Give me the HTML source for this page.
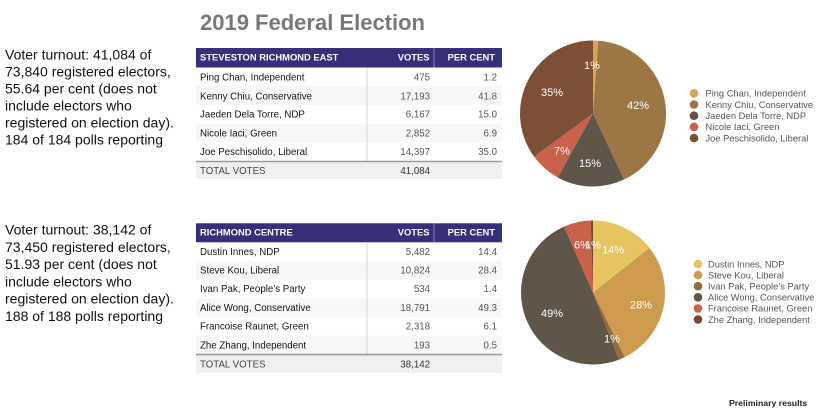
<!DOCTYPE html>
<html><head><meta charset="utf-8"><style>
html,body{margin:0;padding:0;background:#fff;}
svg{display:block;font-family:"Liberation Sans",Arial,sans-serif;}
</style></head><body>
<svg width="825" height="413" viewBox="0 0 825 413" xmlns="http://www.w3.org/2000/svg">
<rect width="825" height="413" fill="#fff"/>
<!-- Title -->
<text x="200" y="30" font-size="22" font-weight="bold" fill="#787878">2019 Federal Election</text>

<!-- Left texts -->
<g font-size="14" fill="#111">
<text x="5" y="59.5">Voter turnout: 41,084 of</text>
<text x="5" y="76.5">73,840 registered electors,</text>
<text x="5" y="93.5">55.64 per cent (does not</text>
<text x="5" y="110.5">include electors who</text>
<text x="5" y="127.5">registered on election day).</text>
<text x="5" y="144.5">184 of 184 polls reporting</text>
<text x="5" y="234.5">Voter turnout: 38,142 of</text>
<text x="5" y="251.8">73,450 registered electors,</text>
<text x="5" y="269.1">51.93 per cent (does not</text>
<text x="5" y="286.4">include electors who</text>
<text x="5" y="303.7">registered on election day).</text>
<text x="5" y="321">188 of 188 polls reporting</text>
</g>

<!-- Table 1 -->
<rect x="196" y="48" width="306" height="19.5" fill="#352f7c"/>
<line x1="434" y1="48" x2="434" y2="67.5" stroke="#8a86b8" stroke-width="1"/>
<rect x="196" y="86.2" width="306" height="18.7" fill="#f7f7f7"/>
<rect x="196" y="123.6" width="306" height="18.7" fill="#f7f7f7"/>
<line x1="367" y1="67.5" x2="367" y2="161" stroke="#d4d4d4" stroke-width="1"/>
<rect x="196" y="162" width="306" height="17" fill="#efefef"/>
<line x1="196" y1="161.5" x2="502" y2="161.5" stroke="#9a9a9a" stroke-width="1.6"/>
<g font-size="9.4" font-weight="bold" fill="#fff">
<text x="200" y="60.4">STEVESTON RICHMOND EAST</text>
<text x="429.5" y="60.4" text-anchor="end">VOTES</text>
<text x="495" y="60.4" text-anchor="end">PER CENT</text>
</g>
<g font-size="9.7" fill="#151515">
<text x="200" y="80.3">Ping Chan, Independent</text>
<text x="200" y="99.3">Kenny Chiu, Conservative</text>
<text x="200" y="117.6">Jaeden Dela Torre, NDP</text>
<text x="200" y="136.3">Nicole Iaci, Green</text>
<text x="200" y="155">Joe Peschisolido, Liberal</text>
</g>
<g font-size="9.7" fill="#555" text-anchor="end">
<text x="430" y="80.3">475</text><text x="497" y="80.3">1.2</text>
<text x="430" y="99.3">17,193</text><text x="497" y="99.3">41.8</text>
<text x="430" y="117.6">6,167</text><text x="497" y="117.6">15.0</text>
<text x="430" y="136.3">2,852</text><text x="497" y="136.3">6.9</text>
<text x="430" y="155">14,397</text><text x="497" y="155">35.0</text>
</g>
<text x="200" y="174" font-size="9.7" fill="#444">TOTAL VOTES</text>
<text x="430" y="174" font-size="9.7" fill="#333" text-anchor="end">41,084</text>

<!-- Table 2 -->
<rect x="196" y="223.3" width="306" height="19" fill="#352f7c"/>
<line x1="434" y1="223.3" x2="434" y2="242.3" stroke="#8a86b8" stroke-width="1"/>
<rect x="196" y="261" width="306" height="18.65" fill="#f7f7f7"/>
<rect x="196" y="298.3" width="306" height="18.65" fill="#f7f7f7"/>
<rect x="196" y="335.6" width="306" height="18.65" fill="#f7f7f7"/>
<line x1="367" y1="242.3" x2="367" y2="354" stroke="#d4d4d4" stroke-width="1"/>
<rect x="196" y="355" width="306" height="18" fill="#efefef"/>
<line x1="196" y1="354.6" x2="502" y2="354.6" stroke="#9a9a9a" stroke-width="1.6"/>
<g font-size="9.4" font-weight="bold" fill="#fff">
<text x="200" y="235.6">RICHMOND CENTRE</text>
<text x="429.5" y="235.6" text-anchor="end">VOTES</text>
<text x="495" y="235.6" text-anchor="end">PER CENT</text>
</g>
<g font-size="9.7" fill="#151515">
<text x="200" y="255">Dustin Innes, NDP</text>
<text x="200" y="273.3">Steve Kou, Liberal</text>
<text x="200" y="292">Ivan Pak, People’s Party</text>
<text x="200" y="311">Alice Wong, Conservative</text>
<text x="200" y="329.3">Francoise Raunet, Green</text>
<text x="200" y="348.3">Zhe Zhang, Independent</text>
</g>
<g font-size="9.7" fill="#555" text-anchor="end">
<text x="430" y="255">5,482</text><text x="497" y="255">14.4</text>
<text x="430" y="273.3">10,824</text><text x="497" y="273.3">28.4</text>
<text x="430" y="292">534</text><text x="497" y="292">1.4</text>
<text x="430" y="311">18,791</text><text x="497" y="311">49.3</text>
<text x="430" y="329.3">2,318</text><text x="497" y="329.3">6.1</text>
<text x="430" y="348.3">193</text><text x="497" y="348.3">0.5</text>
</g>
<text x="200" y="367.4" font-size="9.7" fill="#444">TOTAL VOTES</text>
<text x="430" y="367.4" font-size="9.7" fill="#333" text-anchor="end">38,142</text>

<!-- Pie 1: center (593,113.5) r=73 -->
<g>
<path d="M593,113.5 L593,40.5 A73,73 0 0,1 598.30,40.69 Z" fill="#d9a254"/>
<path d="M593,113.5 L598.30,40.69 A73,73 0 0,1 624.06,179.56 Z" fill="#9c7644"/>
<path d="M593,113.5 L624.06,179.56 A73,73 0 0,1 557.77,177.44 Z" fill="#5f5548"/>
<path d="M593,113.5 L557.77,177.44 A73,73 0 0,1 534.08,156.59 Z" fill="#c9614b"/>
<path d="M593,113.5 L534.08,156.59 A73,73 0 0,1 593,40.5 Z" fill="#7e4f37"/>
</g>
<g font-size="11" fill="#fff" text-anchor="middle">
<text x="592" y="69">1%</text>
<text x="638" y="109">42%</text>
<text x="590" y="167">15%</text>
<text x="562" y="154.5">7%</text>
<text x="552" y="96">35%</text>
</g>

<!-- Pie 2: center (593,292.5) r=72 -->
<g>
<path d="M593,292.5 L593,220.5 A72,72 0 0,1 649.53,247.91 Z" fill="#e6c45f"/>
<path d="M593,292.5 L649.53,247.91 A72,72 0 0,1 624.67,357.16 Z" fill="#cd9b4e"/>
<path d="M593,292.5 L624.67,357.16 A72,72 0 0,1 618.87,359.69 Z" fill="#946c40"/>
<path d="M593,292.5 L618.87,359.69 A72,72 0 0,1 564.06,226.57 Z" fill="#5f5548"/>
<path d="M593,292.5 L564.06,226.57 A72,72 0 0,1 590.71,220.54 Z" fill="#c9614b"/>
<path d="M593,292.5 L590.71,220.54 A72,72 0 0,1 593,220.5 Z" fill="#774530"/>
</g>
<g font-size="11" fill="#fff" text-anchor="middle">
<text x="613" y="253.5">14%</text>
<text x="641" y="308.5">28%</text>
<text x="612" y="342.5">1%</text>
<text x="552" y="317">49%</text>
<text x="582" y="248.5">6%</text>
<text x="593" y="248.5">1%</text>
</g>

<!-- Legend 1 -->
<g>
<circle cx="694" cy="93.3" r="4.3" fill="#d9a254"/>
<circle cx="694" cy="104.5" r="4.3" fill="#9c7644"/>
<circle cx="694" cy="115.7" r="4.3" fill="#5f5548"/>
<circle cx="694" cy="126.9" r="4.3" fill="#c9614b"/>
<circle cx="694" cy="138.1" r="4.3" fill="#7e4f37"/>
</g>
<g font-size="9.3" fill="#555">
<text x="705.5" y="96.6">Ping Chan, Independent</text>
<text x="705.5" y="107.8">Kenny Chiu, Conservative</text>
<text x="705.5" y="119">Jaeden Dela Torre, NDP</text>
<text x="705.5" y="130.2">Nicole Iaci, Green</text>
<text x="705.5" y="141.4">Joe Peschisolido, Liberal</text>
</g>

<!-- Legend 2 -->
<g>
<circle cx="698" cy="264" r="4.3" fill="#e6c45f"/>
<circle cx="698" cy="275.1" r="4.3" fill="#cd9b4e"/>
<circle cx="698" cy="286.2" r="4.3" fill="#946c40"/>
<circle cx="698" cy="297.3" r="4.3" fill="#5f5548"/>
<circle cx="698" cy="308.4" r="4.3" fill="#c9614b"/>
<circle cx="698" cy="319.5" r="4.3" fill="#774530"/>
</g>
<g font-size="9.3" fill="#555">
<text x="708" y="267.3">Dustin Innes, NDP</text>
<text x="708" y="278.4">Steve Kou, Liberal</text>
<text x="708" y="289.5">Ivan Pak, People’s Party</text>
<text x="708" y="300.6">Alice Wong, Conservative</text>
<text x="708" y="311.7">Francoise Raunet, Green</text>
<text x="708" y="322.8">Zhe Zhang, Independent</text>
</g>

<text x="729" y="405.8" font-size="8.7" font-weight="bold" fill="#222">Preliminary results</text>
</svg>
</body></html>
